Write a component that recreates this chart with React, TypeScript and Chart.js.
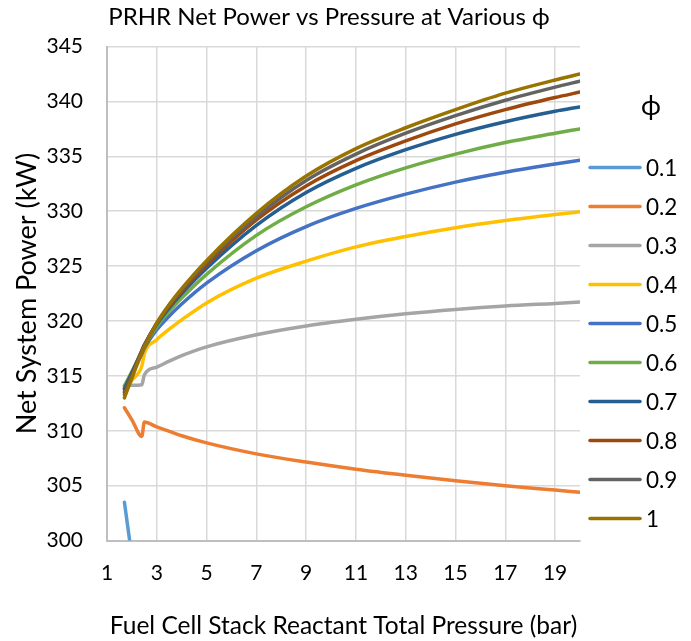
import React, { useEffect, useRef } from "react";
import { Chart, registerables } from "chart.js";

Chart.register(...registerables);

// ---------- data ----------
const chartTitle = "PRHR Net Power vs Pressure at Various \u03D5";
const xTitle = "Fuel Cell Stack Reactant Total Pressure (bar)";
const yTitle = "Net System Power (kW)";
const legendTitle = "\u03D5";

const pressure = [1.7, 2.0, 2.4, 2.5, 3, 3.5, 4, 5, 7, 9, 11, 13, 15, 17, 19, 20];
const xTicks = [1, 3, 5, 7, 9, 11, 13, 15, 17, 19];
const yMin = 300;
const yMax = 345;
const yStep = 5;

const phiLabels = ["0.1", "0.2", "0.3", "0.4", "0.5", "0.6", "0.7", "0.8", "0.9", "1"];

const phi01 = [303.5, 298.5, null, null, null, null, null, null, null, null, null, null, null, null, null, null];
const phi02 = [312.1, 311.0, 309.5, 310.8, 310.35, 309.95, 309.55, 308.9, 307.9, 307.15, 306.5, 305.95, 305.45, 305.0, 304.6, 304.4];
const phi03 = [314.1, 314.15, 314.2, 315.1, 315.8, 316.35, 316.85, 317.65, 318.75, 319.55, 320.15, 320.65, 321.05, 321.37, 321.6, 321.72];
const phi04 = [313.6, 314.6, 315.9, 317.0, 318.3, 319.25, 320.1, 321.65, 323.9, 325.45, 326.75, 327.7, 328.5, 329.15, 329.7, 329.95];
const phi05 = [313.9, 315.3, 317.0, 317.5, 319.2, 320.45, 321.55, 323.45, 326.4, 328.6, 330.25, 331.55, 332.65, 333.55, 334.3, 334.65];
const phi06 = [314.1, 315.4, 317.2, 317.7, 319.5, 320.9, 322.1, 324.25, 327.8, 330.4, 332.4, 333.95, 335.2, 336.25, 337.1, 337.5];
const phi07 = [313.8, 315.3, 317.3, 317.8, 319.7, 321.2, 322.5, 324.8, 328.7, 331.7, 333.9, 335.6, 337.0, 338.15, 339.1, 339.5];
const phi08 = [313.5, 315.1, 317.3, 317.8, 319.8, 321.35, 322.7, 325.1, 329.2, 332.3, 334.6, 336.4, 337.95, 339.25, 340.35, 340.85];
const phi09 = [313.3, 315.0, 317.2, 317.7, 319.8, 321.45, 322.85, 325.35, 329.5, 332.8, 335.2, 337.1, 338.7, 340.1, 341.3, 341.85];
const phi10 = [313.0, 314.8, 317.1, 317.6, 319.8, 321.5, 322.95, 325.5, 329.8, 333.2, 335.7, 337.6, 339.25, 340.75, 341.95, 342.5];

const seriesValues = [phi01, phi02, phi03, phi04, phi05, phi06, phi07, phi08, phi09, phi10];

const seriesColors = [
  "#5B9BD5", "#ED7D31", "#A5A5A5", "#FFC000", "#4472C4",
  "#70AD47", "#255E91", "#9E480E", "#636363", "#997300",
];

const FONT = "Lato, 'Open Sans', 'DejaVu Sans', sans-serif";

// ---------- plugins ----------
const titlePlugin = {
  id: "customTitle",
  afterDraw(chart: any) {
    const { ctx, chartArea } = chart;
    ctx.save();
    ctx.font = `24px ${FONT}`;
    ctx.fillStyle = "#000";
    ctx.textAlign = "center";
    ctx.textBaseline = "middle";
    ctx.fillText(chartTitle, chartArea.left + 222, chartArea.top - 29);
    ctx.restore();
  },
};

const legendPlugin = {
  id: "phiLegend",
  afterDraw(chart: any) {
    const { ctx, chartArea } = chart;
    const x0 = chartArea.right + 8;
    ctx.save();
    ctx.fillStyle = "#000";
    ctx.font = `27px ${FONT}`;
    ctx.textAlign = "center";
    ctx.textBaseline = "middle";
    ctx.fillText(legendTitle, x0 + 63, chartArea.top + 60);
    ctx.font = `22.5px ${FONT}`;
    ctx.textAlign = "left";
    chart.data.datasets.forEach((ds: any, i: number) => {
      const y = chartArea.top + 121 + i * 39;
      ctx.strokeStyle = ds.borderColor;
      ctx.lineWidth = 3.5;
      ctx.lineCap = "round";
      ctx.beginPath();
      ctx.moveTo(x0 + 2, y);
      ctx.lineTo(x0 + 52, y);
      ctx.stroke();
      ctx.fillText(ds.label, x0 + 58, y + 1);
    });
    ctx.restore();
  },
};

export default function App() {
  const canvasRef = useRef<HTMLCanvasElement | null>(null);

  useEffect(() => {
    document.body.style.margin = "0";
    const canvas = canvasRef.current;
    if (!canvas) return;

    const datasets = seriesValues.map((vals, i) => ({
      label: phiLabels[i],
      data: pressure.map((p, j) => ({ x: p, y: vals[j] })),
      borderColor: seriesColors[i],
      backgroundColor: seriesColors[i],
      borderWidth: 3.5,
      pointRadius: 0,
      pointHoverRadius: 0,
      fill: false,
      spanGaps: false,
      cubicInterpolationMode: "monotone" as const,
      borderCapStyle: "round" as const,
      borderJoinStyle: "round" as const,
      order: -i,
    }));

    const tickFont = { family: FONT, size: 21 };

    const chart = new Chart(canvas, {
      type: "line",
      data: { datasets },
      plugins: [titlePlugin, legendPlugin],
      options: {
        animation: false,
        responsive: false,
        devicePixelRatio: 1,
        layout: { padding: { top: 46.5, right: 111, left: 0, bottom: 0 } },
        plugins: {
          legend: { display: false },
          title: { display: false },
          tooltip: { enabled: false },
        },
        scales: {
          x: {
            type: "linear",
            min: 1,
            max: 20,
            afterBuildTicks: (scale: any) => {
              scale.ticks = xTicks.map((v) => ({ value: v }));
            },
            afterFit: (scale: any) => {
              scale.height = 100.4;
            },
            grid: { color: "#d9d9d9", lineWidth: 1.5, drawTicks: false },
            border: { color: "#bfbfbf", width: 2 },
            ticks: {
              padding: 20,
              color: "#000",
              font: tickFont,
              autoSkip: false,
              maxRotation: 0,
            },
            title: {
              display: true,
              text: xTitle,
              color: "#000",
              font: { family: FONT, size: 24.5 },
              padding: { top: 0, bottom: 0 },
            },
          },
          y: {
            type: "linear",
            min: yMin,
            max: yMax,
            afterFit: (scale: any) => {
              scale.width = 107;
            },
            grid: { color: "#d9d9d9", lineWidth: 1.5, drawTicks: false },
            border: { color: "#bfbfbf", width: 2 },
            ticks: {
              stepSize: yStep,
              padding: 24,
              color: "#000",
              font: tickFont,
            },
            title: {
              display: true,
              text: yTitle,
              color: "#000",
              font: { family: FONT, size: 27 },
              padding: { top: 11, bottom: 0 },
            },
          },
        },
      },
    });

    return () => chart.destroy();
  }, []);

  return (
    <div style={{ width: 691, height: 641 }}>
      <canvas ref={canvasRef} width={691} height={641} style={{ display: "block" }} />
    </div>
  );
}
